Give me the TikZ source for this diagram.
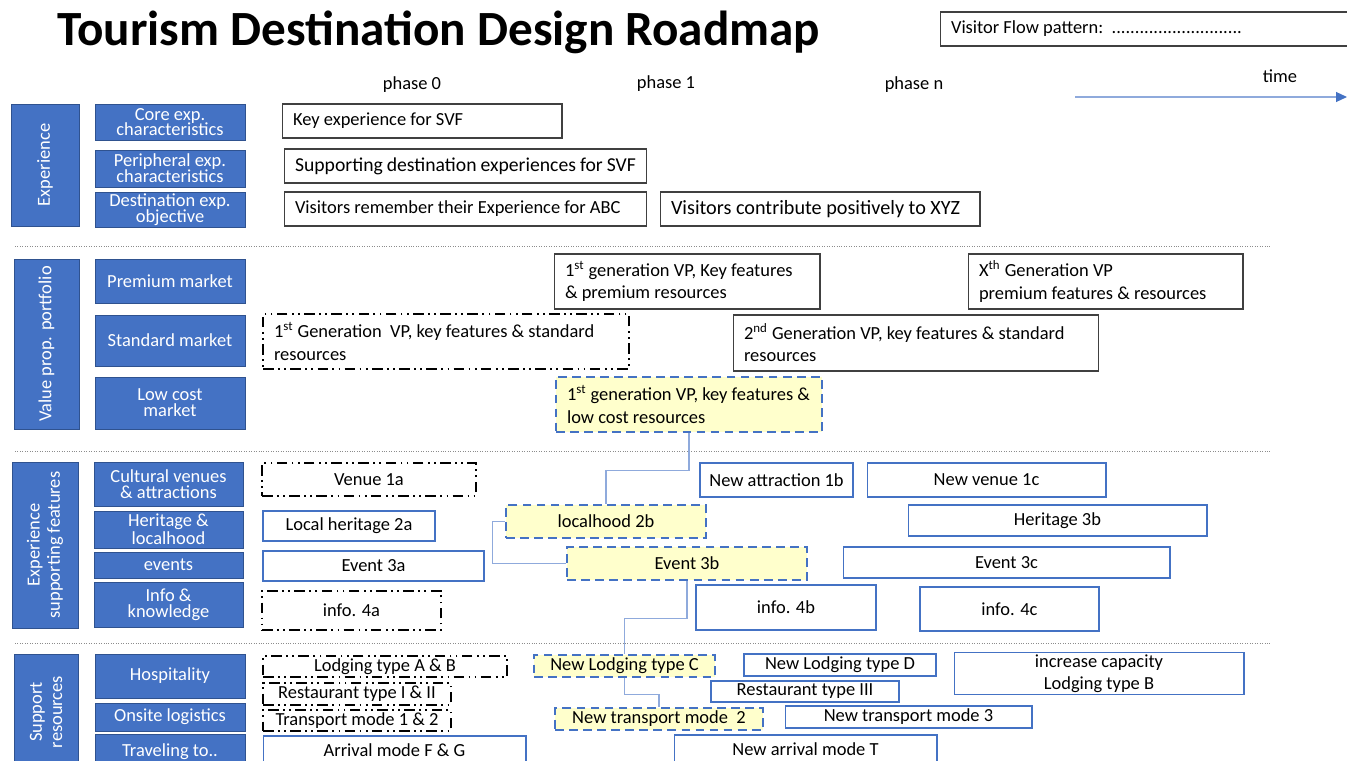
\documentclass[tikz,border=0pt]{standalone}
\usepackage{fontspec}
\setmainfont{Carlito}
\usetikzlibrary{arrows.meta}
\definecolor{mapBlue}{HTML}{4472C4}
\definecolor{mapBlueDark}{HTML}{2F528F}
\definecolor{mapBlueLight}{HTML}{8FAADC}
\definecolor{mapYellow}{HTML}{FFFFCC}
\definecolor{mapGray}{HTML}{404040}
\tikzset{
  side bar/.style={fill=mapBlue, draw=mapBlueDark, rotate=90, text=white,
    align=flush center, font=\fontsize{10.5}{11.5}\selectfont, inner sep=1pt},
  side box/.style={fill=mapBlue, draw=mapBlueDark, text=white,
    align=flush center, font=\fontsize{10.5}{9}\selectfont, inner sep=1pt},
  plan box/.style={draw=mapGray, semithick, align=flush left,
    inner xsep=0.22cm, inner ysep=1pt, font=\fontsize{10.5}{12.6}\selectfont},
  new box/.style={draw=mapBlue, semithick, align=flush center, inner sep=1pt,
    font=\fontsize{10.5}{12.6}\selectfont},
  current box/.style={draw=black, line width=1.5pt,
    dash pattern=on 6pt off 2.5pt on 1pt off 2.5pt on 1pt off 2.5pt,
    align=flush center, inner sep=1pt, font=\fontsize{10.5}{12.6}\selectfont},
  focus box/.style={fill=mapYellow, draw=mapBlue, line width=1.3pt,
    dash pattern=on 5pt off 3pt, align=flush center, inner sep=1pt,
    font=\fontsize{10.5}{12.6}\selectfont},
  phase/.style={font=\fontsize{10.5}{11}\selectfont},
  link/.style={draw=mapBlueLight, semithick},
  timeline/.style={-{Triangle[length=2.2mm,width=2mm,color=mapBlue]},
    semithick, draw=mapBlueLight},
  section line/.style={draw=black!45, densely dotted, thin}
}

\begin{document}
\begin{tikzpicture}[x=0.02cm, y=-0.02cm]
  \useasboundingbox (0,0) rectangle (1347,761);
  \clip (0,0) rectangle (1347,761);

  % header
  \node[anchor=west, inner sep=0pt, font=\fontsize{28}{30}\selectfont\bfseries]
    (title) at (57,32) {Tourism Destination Design Roadmap};
  \node[plan box, text width=7.96cm, minimum height=0.68cm] (vfp) at (1150,29)
    {Visitor Flow pattern:\ \ ............................};
  \node[phase] (ph0) at (412,85) {phase 0};
  \node[phase] (ph1) at (666,84) {phase 1};
  \node[phase] (phn) at (914,85) {phase n};
  \node[phase] (time) at (1280,76) {time};
  \coordinate (t0) at (1075,97);
  \coordinate (t1) at (1347,97);
  \draw[timeline] (t0) -- (t1);

  \foreach \y in {246,451,643}
    \draw[section line] (15,\y) -- (1270,\y);

  % experience
  \node[side bar, minimum width=2.44cm, minimum height=1.36cm] (exp) at (45,165) {Experience};
  \node[side box, minimum width=3cm, minimum height=0.72cm] (core) at (170,122) {Core exp.\\characteristics};
  \node[side box, minimum width=3cm, minimum height=0.74cm] (peri) at (170,168.5) {Peripheral exp.\\characteristics};
  \node[side box, minimum width=3cm, minimum height=0.66cm] (dest) at (170,209.5) {Destination exp.\\objective};
  \node[plan box, text width=5.16cm, minimum height=0.68cm] (key) at (422,121) {Key experience for SVF};
  \node[plan box, text width=6.82cm, minimum height=0.68cm, font=\fontsize{11.2}{13}\selectfont] (supp) at (465.5,166) {Supporting destination experiences for SVF};
  \node[plan box, text width=6.82cm, minimum height=0.68cm] (remb) at (465.5,209) {Visitors remember their Experience for ABC};
  \node[plan box, text width=5.96cm, minimum height=0.68cm, font=\fontsize{11.5}{13}\selectfont] (contr) at (820,209) {Visitors contribute positively to XYZ};

  % value proposition portfolio
  \node[side bar, minimum width=3.4cm, minimum height=1.3cm] (vpp) at (46.5,344) {Value prop. portfolio};
  \node[side box, minimum width=3cm, minimum height=0.88cm] (prem) at (170,281) {Premium market};
  \node[side box, minimum width=3cm, minimum height=1.02cm] (std) at (170,340.5) {Standard market};
  \node[side box, minimum width=3cm, minimum height=1.04cm] (low) at (170,403) {Low cost\\market};
  \node[plan box, text width=4.88cm, minimum height=1.1cm] (prem1) at (687,281.5)
    {1\textsuperscript{st} generation VP, Key features\\\& premium resources};
  \node[plan box, text width=5.06cm, minimum height=1.1cm] (premx) at (1105.5,281.5)
    {X\textsuperscript{th} Generation VP\\premium features \& resources};
  \node[plan box, current box, align=flush left, inner xsep=0.22cm, text width=6.88cm, minimum height=1.1cm] (std1) at (446,341.5)
    {1\textsuperscript{st} Generation\ \ VP, key features \& standard\\resources};
  \node[plan box, text width=6.88cm, minimum height=1.12cm] (std2) at (916,343)
    {2\textsuperscript{nd} Generation VP, key features \& standard\\resources};
  \node[plan box, focus box, align=flush left, inner xsep=0.22cm, text width=4.88cm, minimum height=1.1cm] (low1) at (689,404.5)
    {1\textsuperscript{st} generation VP, key features \&\\low cost resources};

  % experience supporting features
  \node[side bar, minimum width=3.32cm, minimum height=1.32cm] (esf) at (45,545) {Experience\\supporting features};
  \node[side box, minimum width=2.98cm, minimum height=0.88cm] (cult) at (168.5,484) {Cultural venues\\\& attractions};
  \node[side box, minimum width=2.98cm, minimum height=0.74cm] (heri) at (168.5,529.5) {Heritage \&\\localhood};
  \node[side box, minimum width=2.98cm, minimum height=0.52cm] (evts) at (168.5,565) {events};
  \node[side box, minimum width=2.98cm, minimum height=0.9cm] (info) at (168.5,604.5) {Info \&\\knowledge};
  \node[current box, minimum width=4.28cm, minimum height=0.66cm] (ven1a) at (369,479.5) {Venue 1a};
  \node[new box, minimum width=3.44cm, minimum height=0.6cm] (her2a) at (349,526) {Local heritage 2a};
  \node[new box, minimum width=4.42cm, minimum height=0.6cm] (ev3a) at (373.5,566) {Event 3a};
  \node[current box, minimum width=3.58cm, minimum height=0.78cm] (inf4a) at (351.5,610.5) {info. 4a};
  \node[focus box, minimum width=4cm, minimum height=0.66cm] (loc2b) at (606,521.5) {localhood 2b};
  \node[focus box, minimum width=4.8cm, minimum height=0.66cm] (ev3b) at (687,563.5) {Event 3b};
  \node[new box, minimum width=3.06cm, minimum height=0.68cm] (att1b) at (776.5,480) {New attraction 1b};
  \node[new box, minimum width=4.78cm, minimum height=0.68cm] (ven1c) at (986.5,480) {New venue 1c};
  \node[new box, minimum width=5.98cm, minimum height=0.62cm] (her3b) at (1057.5,520.5) {Heritage 3b};
  \node[new box, minimum width=6.54cm, minimum height=0.62cm] (ev3c) at (1006.5,562.5) {Event 3c};
  \node[new box, minimum width=3.6cm, minimum height=0.9cm] (inf4b) at (786,607.5) {info. 4b};
  \node[new box, minimum width=3.58cm, minimum height=0.88cm] (inf4c) at (1009.5,609) {info. 4c};

  % support resources
  \node[side bar, minimum width=2.32cm, minimum height=1.28cm] (sres) at (46,712) {Support\\resources};
  \node[side box, minimum width=3cm, minimum height=0.88cm] (hosp) at (170,676) {Hospitality};
  \node[side box, minimum width=3cm, minimum height=0.56cm] (onsl) at (170,717) {Onsite logistics};
  \node[side box, minimum width=3cm, minimum height=0.72cm] (trav) at (170,752) {Traveling to..};
  \node[current box, minimum width=4.88cm, minimum height=0.42cm] (lodab) at (385,666.5) {Lodging type A \& B};
  \node[current box, minimum width=3.76cm, minimum height=0.44cm] (rest12) at (357,694) {Restaurant type I \& II};
  \node[current box, minimum width=3.76cm, minimum height=0.42cm] (trm12) at (357,720.5) {Transport mode 1 \& 2};
  \node[new box, minimum width=5.26cm, minimum height=0.56cm] (arrfg) at (394.5,750) {Arrival mode F \& G};
  \node[focus box, minimum width=3.62cm, minimum height=0.44cm] (lodc) at (624.5,666) {New Lodging type C};
  \node[focus box, minimum width=4.16cm, minimum height=0.44cm] (trm2) at (659,719) {New transport mode\ \ 2};
  \node[new box, minimum width=3.84cm, minimum height=0.44cm] (lodd) at (840,665) {New Lodging type D};
  \node[new box, minimum width=3.76cm, minimum height=0.42cm] (rest3) at (805,691.5) {Restaurant type III};
  \node[new box, minimum width=5.8cm, minimum height=0.82cm] (incb) at (1099,673.5) {increase capacity\\Lodging type B};
  \node[new box, minimum width=4.94cm, minimum height=0.44cm] (trm3) at (908.5,717) {New transport mode 3};
  \node[new box, minimum width=5.26cm, minimum height=0.58cm] (arrt) at (805.5,749.5) {New arrival mode T};

  % links between the focus boxes
  \draw[link] (low1.south) -- ++(0,37) -| (loc2b.north);
  \draw[link] (loc2b.west) -- ++(-12,0) |- (ev3b.west);
  \draw[link] (ev3b.south) -- ++(0,37) -| (lodc.north);
  \draw[link] (lodc.south) -- ++(0,16) -| (trm2.north);
\end{tikzpicture}
\end{document}
